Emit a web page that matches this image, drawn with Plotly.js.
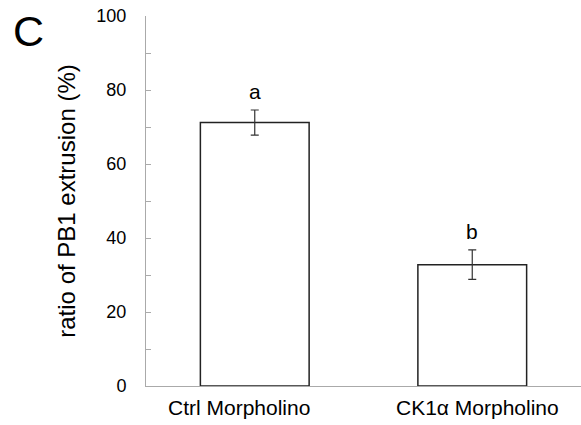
<!DOCTYPE html>
<html><head><meta charset="utf-8">
<script src="https://cdn.plot.ly/plotly-3.0.1.min.js"></script>
<style>html,body{margin:0;padding:0;background:#fff}</style>
</head><body>
<div id="chart" style="width:581px;height:425px"></div>
<script>
const categories = ["Ctrl Morpholino", "CK1\u03b1 Morpholino"];
const values = [71.2, 32.8];
const errors = [3.4, 4.0];
const letters = ["a", "b"];
const yTicks = [0, 20, 40, 60, 80, 100];

const FONT = "Liberation Sans, Arial, sans-serif";

const trace = {
  type: "bar",
  x: categories,
  y: values,
  width: 0.5,
  marker: {color: "#ffffff", line: {color: "#222222", width: 1.5}},
  error_y: {type: "data", array: errors, visible: true, color: "#333333", thickness: 1.2, width: 4},
  hoverinfo: "none"
};

const annotations = categories.map((c, i) => ({
  x: c, y: values[i] + errors[i], yref: "y", xref: "x",
  text: letters[i], showarrow: false, yanchor: "bottom", yshift: 5,
  font: {family: FONT, size: 21, color: "#000"}
}));
// category labels (slightly offset as in the original figure)
const labelShift = [-16, 5];
categories.forEach((c, i) => annotations.push({
  x: c, xref: "x", y: 0, yref: "paper", yanchor: "top", yshift: -8, xshift: labelShift[i],
  text: c, showarrow: false,
  font: {family: FONT, size: 21, color: "#000"}
}));
annotations.push({
  xref: "paper", yref: "paper", x: -0.31, y: 1.03, xanchor: "left", yanchor: "top",
  text: "C", showarrow: false,
  font: {family: FONT, size: 43, color: "#000"}
});

const layout = {
  width: 581, height: 425,
  margin: {l: 146, r: 0, t: 16, b: 39},
  paper_bgcolor: "#fff", plot_bgcolor: "#fff",
  showlegend: false,
  xaxis: {
    range: [-0.5, 1.5],
    showline: true, linecolor: "#aaaaaa", linewidth: 1,
    ticks: "", showgrid: false, zeroline: false, showticklabels: false
  },
  yaxis: {
    range: [0, 100],
    tickvals: yTicks,
    showline: true, linecolor: "#aaaaaa", linewidth: 1,
    ticks: "inside", ticklen: 5, tickcolor: "#aaaaaa",
    minor: {dtick: 10, ticks: "inside", ticklen: 5, tickcolor: "#aaaaaa", showgrid: false},
    showgrid: false, zeroline: false,
    ticklabelstandoff: 15,
    tickfont: {family: FONT, size: 18, color: "#000"},
    title: {text: "ratio of PB1 extrusion (%)", standoff: 13,
      font: {family: FONT, size: 24, color: "#000"}}
  },
  annotations: annotations
};

Plotly.newPlot("chart", [trace], layout, {staticPlot: true});
</script>
</body></html>
